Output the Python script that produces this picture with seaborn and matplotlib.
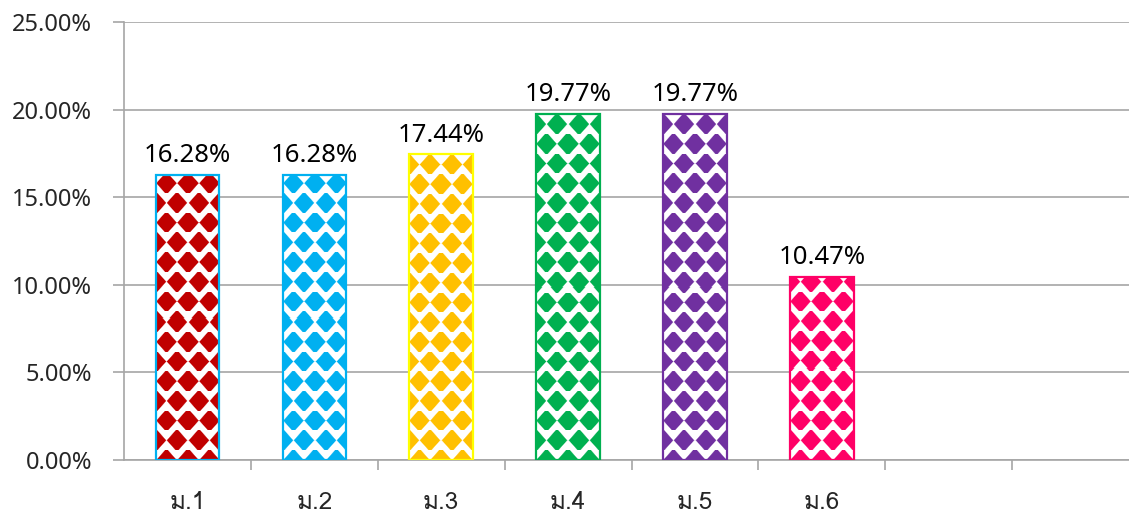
import numpy as np
import seaborn as sns
import matplotlib.pyplot as plt
from matplotlib import font_manager
from matplotlib.ft2font import FT2Font
from matplotlib.ticker import PercentFormatter, FixedLocator

grades = ["ม.1", "ม.2", "ม.3", "ม.4", "ม.5", "ม.6"]
percents = [16.28, 16.28, 17.44, 19.77, 19.77, 10.47]
fill_colors = ["#C00000", "#00B0F0", "#FFC000", "#00B050", "#7030A0", "#FF0066"]
edge_colors = ["#00B0F0", "#00B0F0", "#FFFF00", "#00B050", "#7030A0", "#FF0066"]
n_slots = 8

sns.set_theme(style="white")

# find something that can draw Thai
thai_font = None
for f in font_manager.fontManager.ttflist:
    try:
        if 0x0E21 in FT2Font(f.fname).get_charmap():
            thai_font = f.name
            break
    except Exception:
        pass
plt.rcParams["font.family"] = ["Noto Sans", "DejaVu Sans"]
thai_family = [thai_font, "DejaVu Sans"] if thai_font else ["DejaVu Sans"]

fig = plt.figure(figsize=(11.29, 5.14), dpi=100)
ax = fig.add_axes([124 / 1129, 54 / 514, 1015 / 1129, 438 / 514])

sns.barplot(x=grades, y=percents, color="white", width=0.5, linewidth=0,
            saturation=1, ax=ax, zorder=1)
base_bars = list(ax.patches)
sns.barplot(x=grades, y=percents, hue=grades, palette=edge_colors, fill=False,
            width=0.5, linewidth=1.6, saturation=1, legend=False, ax=ax, zorder=4)

ax.set_xlim(-0.5, n_slots - 0.5)
ax.set_ylim(0, 25)
ax.set_yticks(np.arange(0, 26, 5))
ax.yaxis.set_major_formatter(PercentFormatter(decimals=2))
ax.set_xlabel("")
ax.set_ylabel("")

grid_c = "#A6A6A6"
ax.set_axisbelow(True)
ax.yaxis.grid(True, color=grid_c, linewidth=1.2)
ax.xaxis.grid(False)
for s in ["top", "right"]:
    ax.spines[s].set_visible(False)
for s in ["left", "bottom"]:
    ax.spines[s].set_color(grid_c)
    ax.spines[s].set_linewidth(1.2)

ax.tick_params(axis="y", length=8, width=1.2, color=grid_c, pad=15,
               labelsize=17, labelcolor="#262626", left=True)
ax.set_xticks(range(len(grades)))
ax.set_xticklabels(grades, family=thai_family, fontsize=17.5, color="#262626")
ax.tick_params(axis="x", which="major", length=0, pad=22)
ax.xaxis.set_minor_locator(FixedLocator(np.arange(0.5, n_slots - 0.5, 1)))
ax.tick_params(axis="x", which="minor", length=7, width=1.2, color=grid_c, bottom=True)

# diamond pattern fill inside each bar
fig.canvas.draw()
V = 19.7
for bar, col in zip(base_bars, fill_colors):
    x0, x1 = bar.get_x(), bar.get_x() + bar.get_width()
    h = bar.get_height()
    (px0, py0), (px1, py1) = ax.transData.transform([(x0, 0), (x1, h)])
    w_px, h_px = int(round(px1 - px0)), int(round(py1 - py0))
    period = w_px / 3
    yy, xx = np.mgrid[0:h_px, 0:w_px] + 0.5
    yb = h_px - yy
    j = np.round(yb / V)
    dy = yb - j * V
    shift = ((j + 1) % 2) * period / 2
    dx = ((xx - shift + period / 2) % period) - period / 2
    d = np.abs(dx) / 10.2 + np.abs(dy) / 11.5
    alpha = np.clip((1 - d) * 7 + 0.5, 0, 1)
    rgba = np.zeros((h_px, w_px, 4))
    rgba[..., :3] = np.array(plt.matplotlib.colors.to_rgb(col))
    rgba[..., 3] = alpha
    ax.imshow(rgba, extent=(x0, x1, 0, h), aspect="auto", zorder=2,
              interpolation="nearest")
    ax.annotate(f"{h:.2f}%", (x0 + bar.get_width() / 2, h), xytext=(0, 5),
                textcoords="offset points", ha="center", va="bottom",
                fontsize=18.5, fontweight="semibold", color="black")

ax.set_xlim(-0.5, n_slots - 0.5)
ax.set_ylim(0, 25)

fig.savefig("out.png", dpi=100)
